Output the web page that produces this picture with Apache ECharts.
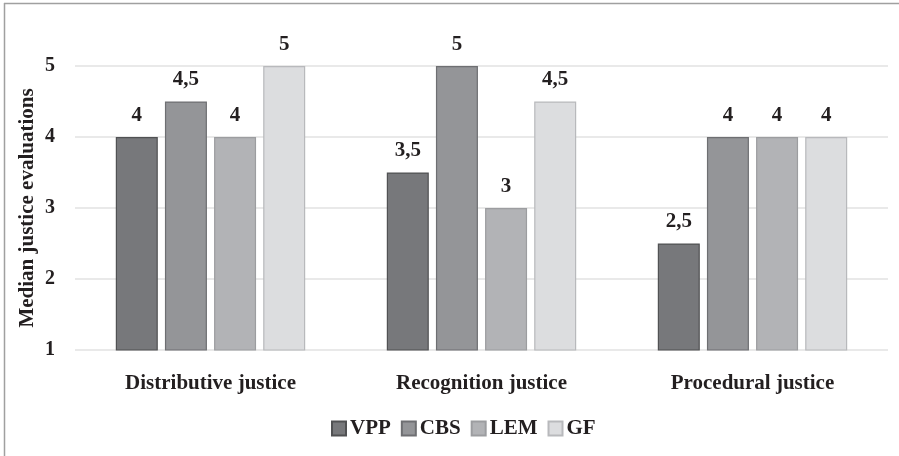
<!DOCTYPE html>
<html><head><meta charset="utf-8">
<script src="https://cdn.jsdelivr.net/npm/echarts@6/dist/echarts.min.js"></script>
<style>html,body{margin:0;padding:0;background:#fff}#c{width:899px;height:456px}</style>
</head><body><div id="c"></div>
<script>
const categories = ['Distributive justice', 'Recognition justice', 'Procedural justice'];
const seriesNames = ['VPP', 'CBS', 'LEM', 'GF'];
const VPP = [4, 3.5, 2.5];
const CBS = [4.5, 5, 4];
const LEM = [4, 3, 4];
const GF = [5, 4.5, 4];
const yTicks = [1, 2, 3, 4, 5];

const fills = ['#77787b', '#949598', '#b2b3b6', '#dcdddf'];
const borders = ['#505153', '#6e6f72', '#9c9da0', '#b8b9bc'];
const font = '"Liberation Serif", "DejaVu Serif", serif';
const txt = '#231f20';
const values = [VPP, CBS, LEM, GF];

const chart = echarts.init(document.getElementById('c'), null, {renderer: 'canvas'});
chart.setOption({
  animation: false,
  backgroundColor: '#fff',
  textStyle: {fontFamily: font},
  graphic: [
    {type: 'line', shape: {x1: 4, y1: 3.5, x2: 899, y2: 3.5}, style: {stroke: '#a0a0a0', lineWidth: 1.5}},
    {type: 'line', shape: {x1: 4.5, y1: 3, x2: 4.5, y2: 456}, style: {stroke: '#a0a0a0', lineWidth: 1.5}}
  ],
  grid: {left: 75, right: 11, top: 66, bottom: 106, containLabel: false},
  legend: {
    data: seriesNames,
    bottom: 12,
    left: 326,
    itemWidth: 14, itemHeight: 14, itemGap: 10,
    icon: 'rect',
    textStyle: {fontFamily: font, fontWeight: 'bold', fontSize: 21, color: txt, padding: [0, 0, 0, -1]}
  },
  xAxis: {
    type: 'category',
    data: categories,
    axisLine: {show: false},
    axisTick: {show: false},
    axisLabel: {fontFamily: font, fontWeight: 'bold', fontSize: 21, color: txt, margin: 23}
  },
  yAxis: {
    type: 'value',
    min: 1, max: 5, interval: 1,
    name: 'Median justice evaluations',
    nameLocation: 'middle',
    nameGap: 37,
    nameMoveOverlap: false,
    nameTextStyle: {fontFamily: font, fontWeight: 'bold', fontSize: 21, color: txt},
    axisLine: {show: false},
    axisTick: {show: false},
    axisLabel: {fontFamily: font, fontWeight: 'bold', fontSize: 20, color: txt, margin: 20,
      formatter: v => yTicks.includes(v) ? String(v) : ''},
    splitLine: {lineStyle: {color: '#e2e2e2', width: 1.5}}
  },
  series: seriesNames.map((n, i) => ({
    name: n,
    type: 'bar',
    data: values[i],
    barWidth: 42,
    barGap: '17%',
    itemStyle: {color: fills[i], borderColor: borders[i], borderWidth: 1.2},
    label: {
      show: true, position: 'top', distance: 11,
      fontFamily: font, fontWeight: 'bold', fontSize: 21, color: txt,
      formatter: p => String(p.value).replace('.', ',')
    }
  }))
});
</script></body></html>
